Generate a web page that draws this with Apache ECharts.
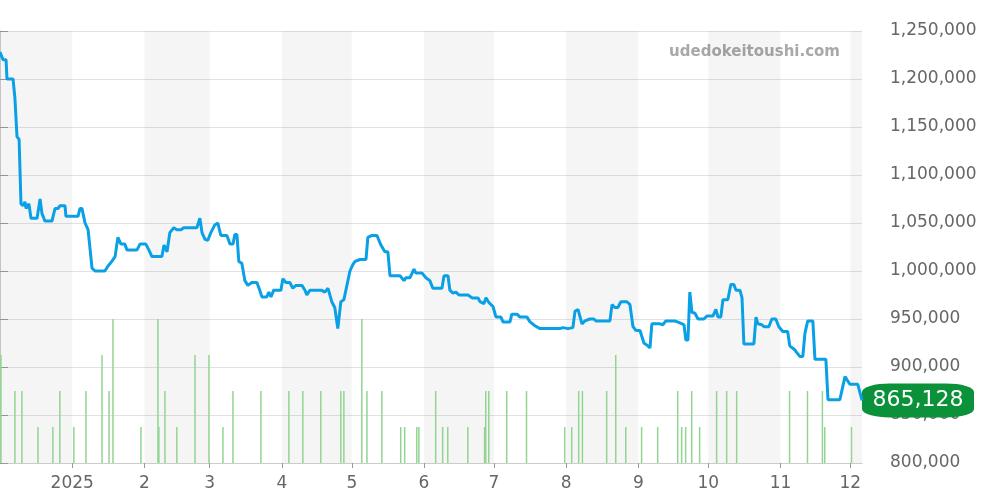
<!DOCTYPE html>
<html>
<head>
<meta charset="utf-8" />
<script src="https://cdn.jsdelivr.net/npm/echarts@6/dist/echarts.min.js"></script>
<style>
	* { margin: 0; padding: 0; }
	html, body { width: 1000px; height: 500px; background: #fff; }
	#main { width: 1000px; height: 500px; }
</style>
</head>
<body>
<div id="main"></div>
<script>
	// x = days since 2024-12-01
	var monthStarts = [31, 62, 90, 121, 151, 182, 212, 243, 274, 304, 335, 365];
	var monthLabels = ['2025', '2', '3', '4', '5', '6', '7', '8', '9', '10', '11', '12'];
	var shadedMonths = [[0, 31], [62, 90], [121, 151], [182, 212], [243, 274], [304, 335], [365, 370]];

	var priceDays = [0, 1.3, 2.6, 3, 5.6, 6.4, 7.3, 8.2, 9, 9.9, 10.7, 11.2, 12.4, 13.3, 15.9, 17.2, 18, 19.3, 22.3, 23.6, 24.9, 25.7, 27.9, 28.3, 33.5, 34.3, 35.2, 36.5, 37.8, 38.6, 39.5, 40.8, 45, 46.3, 48, 49.4, 50.6, 51.9, 53.6, 54.5, 58.8, 60.1, 62.6, 63.9, 65.2, 69.5, 70.4, 71.7, 72.9, 74.6, 75.9, 77.7, 78.9, 84.5, 85.8, 86.7, 88, 89.2, 90.5, 92.2, 93.5, 94.8, 97.4, 98.7, 100, 100.8, 101.7, 102.5, 103.8, 105.1, 106.4, 108.1, 110.3, 111.5, 112.4, 114.5, 115.4, 116.3, 117.5, 120.6, 121.4, 122.7, 124.4, 125.7, 127, 129.6, 130.9, 131.7, 133, 138.1, 139.4, 140.8, 142.4, 143.7, 145, 146.3, 147.6, 148.9, 150.2, 151.5, 152.4, 154.5, 157.1, 157.9, 159.7, 161.8, 163.5, 165.2, 166.5, 167.4, 171.7, 173.4, 174.2, 176, 177.7, 178.5, 181.1, 182.8, 184.5, 185.8, 189.7, 190.6, 192.3, 193.1, 194.4, 195.7, 197, 200.9, 202.6, 205.2, 206, 207.7, 208.6, 209.9, 211.6, 212.9, 215, 215.9, 218.9, 219.7, 221.9, 223.2, 226.2, 227.5, 229.6, 231.8, 240.3, 241.6, 243.8, 245.9, 246.8, 248.1, 248.9, 249.8, 251.1, 253.2, 254.9, 255.8, 261.8, 262.7, 263.9, 265.2, 266.5, 269.1, 270.4, 271.7, 273, 274.7, 276.4, 278.1, 279, 279.8, 283.3, 284.5, 285.8, 289.7, 291.8, 293.6, 294.4, 295.3, 296.1, 297, 298.3, 299.6, 302.1, 303.4, 306, 307.3, 308.2, 309.4, 310.3, 312.4, 313.7, 315, 315.9, 317.6, 318.5, 319.3, 323.6, 324.5, 325.3, 327, 327.9, 330, 331.3, 333, 334.3, 336, 338.1, 339, 339.8, 341.1, 342, 343.3, 344.6, 345.5, 346.7, 348.9, 349.8, 354.5, 355.4, 360.5, 362.7, 363.5, 364.8, 368.2, 370];
	var priceK = [1228, 1220, 1220, 1200, 1200, 1180, 1140, 1137, 1070, 1068, 1072, 1065, 1070, 1055, 1055, 1075, 1060, 1052, 1052, 1065, 1065, 1068, 1068, 1057, 1057, 1065, 1065, 1050, 1043, 1043, 1003, 1000, 1000, 1005, 1010, 1015, 1035, 1028, 1028, 1022, 1022, 1028, 1028, 1022, 1015, 1015, 1027, 1020, 1040, 1045, 1043, 1043, 1045, 1045, 1055, 1040, 1033, 1032, 1040, 1048, 1050, 1037, 1037, 1028, 1028, 1038, 1038, 1010, 1008, 990, 985, 988, 988, 980, 973, 973, 978, 973, 980, 980, 992, 988, 988, 982, 985, 985, 980, 975, 980, 980, 978, 982, 968, 962, 940, 968, 970, 985, 1000, 1007, 1010, 1012, 1012, 1035, 1037, 1037, 1027, 1020, 1020, 995, 995, 990, 993, 993, 1002, 998, 998, 993, 990, 982, 982, 995, 995, 980, 977, 978, 975, 975, 972, 972, 968, 966, 972, 967, 963, 952, 952, 947, 947, 955, 955, 952, 952, 947, 943, 940, 940, 941, 940, 941, 958, 960, 960, 945, 948, 950, 950, 948, 948, 965, 962, 962, 968, 968, 965, 942, 938, 938, 925, 922, 920, 945, 945, 944, 948, 948, 946, 944, 928, 928, 978, 957, 956, 950, 950, 953, 953, 960, 952, 952, 970, 970, 986, 986, 980, 980, 972, 924, 924, 952, 945, 944, 942, 942, 950, 950, 942, 937, 937, 922, 920, 918, 915, 911, 911, 935, 948, 948, 908, 908, 866, 866, 890, 890, 882, 882, 865.128];

	var volDays = [48.5, 67.8, 155.3, 0.4, 43.8, 83.7, 89.7, 264.3, 6.4, 9.4, 25.7, 36.9, 46.8, 70.8, 100, 112, 124, 130, 137.7, 146.3, 147.6, 157.5, 163.9, 187, 208.5, 209.8, 217.5, 226, 248.4, 250, 260.4, 290.9, 296.9, 307.6, 311.9, 316.2, 338.9, 346.6, 353, 16.3, 22.7, 31.7, 60.5, 68.2, 75.9, 95.7, 172, 173.7, 178.9, 179.8, 190, 192.2, 200.8, 208, 242.4, 245.4, 268.6, 275.4, 282.3, 292.6, 294.3, 300.3, 354, 365.5];
	var volCount = [4, 4, 4, 3, 3, 3, 3, 3, 2, 2, 2, 2, 2, 2, 2, 2, 2, 2, 2, 2, 2, 2, 2, 2, 2, 2, 2, 2, 2, 2, 2, 2, 2, 2, 2, 2, 2, 2, 2, 1, 1, 1, 1, 1, 1, 1, 1, 1, 1, 1, 1, 1, 1, 1, 1, 1, 1, 1, 1, 1, 1, 1, 1, 1];

	var priceData = priceDays.map(function (d, i) { return [d, Math.round(priceK[i] * 1000)]; });
	var volData = volDays.map(function (d, i) { return [d, volCount[i]]; });
	var last = priceData[priceData.length - 1];

	var chart = echarts.init(document.getElementById('main'));
	chart.setOption({
		animation: false,
		grid: { left: 0, right: 138, top: 31, bottom: 37 },
		graphic: [{
			type: 'text', right: 160, top: 45,
			style: { text: 'udedokeitoushi.com', fill: '#a8a8a8', font: 'bold 15px "DejaVu Sans"', textAlign: 'right' }
		}],
		xAxis: {
			type: 'value', min: 0, max: 370,
			splitLine: { show: false },
			axisLine: { lineStyle: { color: '#ccc' } },
			axisTick: { customValues: monthStarts, length: 5, lineStyle: { color: '#999' } },
			axisLabel: {
				customValues: monthStarts, color: '#666', fontSize: 17, fontFamily: 'DejaVu Sans', margin: 12,
				formatter: function (v) { return monthLabels[monthStarts.indexOf(v)]; }
			}
		},
		yAxis: [{
			type: 'value', position: 'right', min: 800000, max: 1250000, interval: 50000,
			axisLine: { show: true, lineStyle: { color: '#ccc' } },
			axisTick: { show: true, length: 8, lineStyle: { color: '#999' } },
			splitLine: { lineStyle: { color: '#e2e2e2' } },
			axisLabel: {
				color: '#666', fontSize: 17, fontFamily: 'DejaVu Sans', margin: 28,
				formatter: function (v) { return v.toLocaleString('en-US'); }
			}
		}, {
			type: 'value', min: 0, max: 12, show: false
		}],
		series: [{
			type: 'bar', yAxisIndex: 1, data: volData, barWidth: 1.5,
			itemStyle: { color: '#92d492' }, silent: true
		}, {
			type: 'line', data: priceData, symbol: 'none', z: 5,
			lineStyle: { color: '#0aa0e6', width: 3 },
			markArea: {
				silent: true, itemStyle: { color: 'rgba(0,0,0,0.04)' },
				data: shadedMonths.map(function (m) { return [{ xAxis: m[0] }, { xAxis: m[1] }]; })
			},
			markPoint: {
				symbol: 'roundRect', symbolSize: [112, 34], symbolOffset: [56, 0],
				itemStyle: { color: '#0a9139' },
				label: {
					color: '#fff', fontSize: 22, fontFamily: 'DejaVu Sans',
					formatter: function () { return last[1].toLocaleString('en-US'); }
				},
				data: [{ coord: last }]
			}
		}]
	});
</script>
</body>
</html>
